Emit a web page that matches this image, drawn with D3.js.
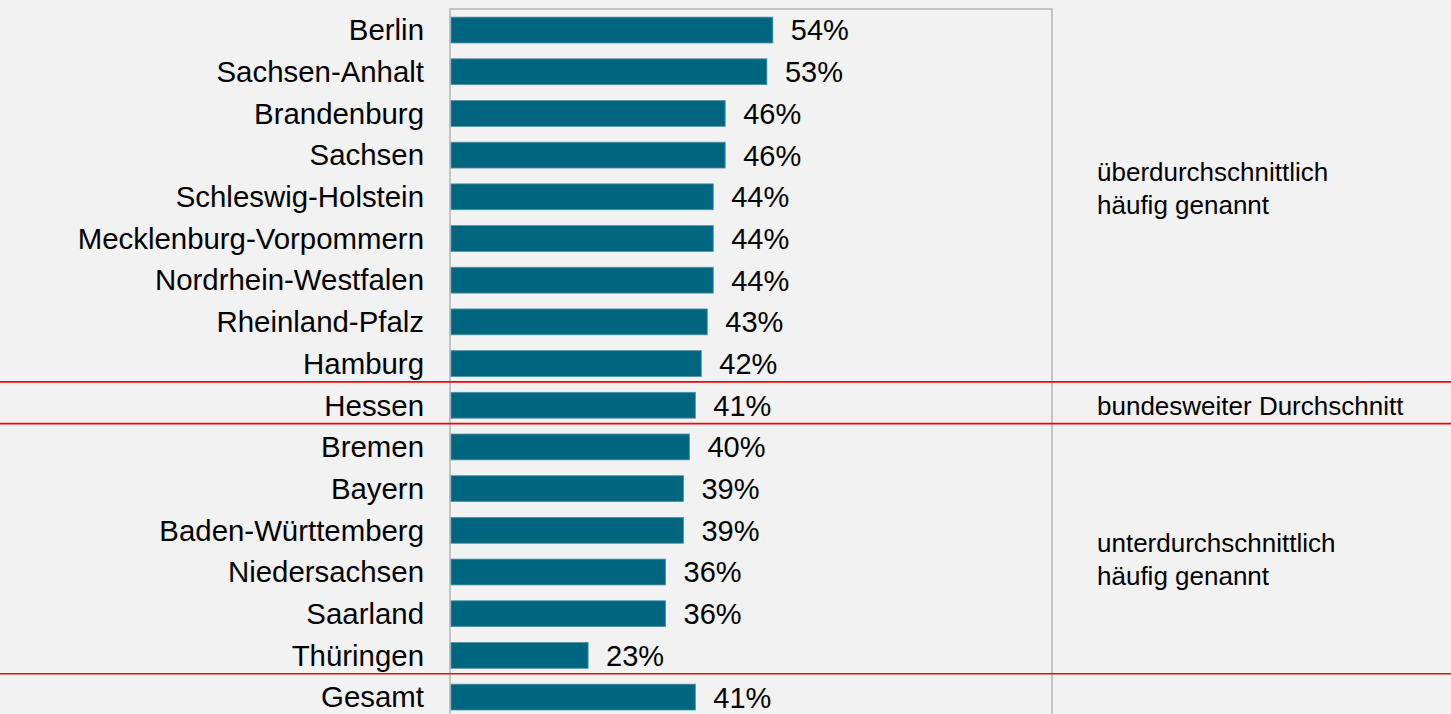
<!DOCTYPE html>
<html>
<head>
<meta charset="utf-8">
<script src="https://cdn.jsdelivr.net/npm/d3@7"></script>
<style>
  html, body { margin: 0; padding: 0; background: #f2f2f2; }
  svg { display: block; font-family: Arial, "Liberation Sans", sans-serif; }
</style>
</head>
<body>
<svg id="chart" width="1451" height="714"></svg>
<script>
// Anteil je Bundesland (in %)
const categories = [
  "Berlin", "Sachsen-Anhalt", "Brandenburg", "Sachsen", "Schleswig-Holstein",
  "Mecklenburg-Vorpommern", "Nordrhein-Westfalen", "Rheinland-Pfalz", "Hamburg",
  "Hessen", "Bremen", "Bayern", "Baden-Württemberg", "Niedersachsen", "Saarland",
  "Thüringen", "Gesamt"
];
const values = [54, 53, 46, 46, 44, 44, 44, 43, 42, 41, 40, 39, 39, 36, 36, 23, 41];

// Gruppen-Beschriftungen rechts, je Gruppe erster und letzter Eintrag
const groups = [
  { from: "Berlin", to: "Hamburg", lines: ["überdurchschnittlich", "häufig genannt"] },
  { from: "Hessen", to: "Hessen", lines: ["bundesweiter Durchschnitt"] },
  { from: "Bremen", to: "Thüringen", lines: ["unterdurchschnittlich", "häufig genannt"] }
];
// Trennlinien nach diesen Einträgen
const separatorsAfter = ["Hamburg", "Hessen", "Thüringen"];

const svg = d3.select("#chart");
const W = 1451, H = 714;

const plotLeft = 450, plotRight = 1052, plotTop = 9;

const x = d3.scaleLinear().domain([0, 100]).range([plotLeft + 1, plotLeft + 1 + 596]);
const y = d3.scaleBand().domain(categories)
  .range([9.2, 9.2 + 41.69 * categories.length])
  .paddingInner(0.38).paddingOuter(0.19);

// Rahmen des Diagrammbereichs
svg.append("path")
  .attr("d", `M${plotLeft},${H + 5}V${plotTop}H${plotRight}V${H + 5}`)
  .attr("fill", "none")
  .attr("stroke", "#c4c4c4")
  .attr("stroke-width", 2);

// Balken
svg.append("g").selectAll("rect")
  .data(categories)
  .join("rect")
  .attr("x", x(0))
  .attr("y", d => y(d))
  .attr("width", (d, i) => x(values[i]) - x(0))
  .attr("height", y.bandwidth())
  .attr("fill", "#006680")
  .attr("stroke", "#4d93a6")
  .attr("stroke-width", 0.8);

// Wertbeschriftungen
svg.append("g").selectAll("text")
  .data(categories)
  .join("text")
  .attr("x", (d, i) => x(values[i]) + 18)
  .attr("y", d => y(d) + y.bandwidth() / 2)
  .attr("dy", "0.36em")
  .attr("font-size", 29)
  .attr("fill", "#000")
  .text((d, i) => values[i] + "%");

// Kategorienachse (Beschriftungen links)
const yAxis = d3.axisLeft(y).tickSize(0).tickPadding(0);
const ax = svg.append("g")
  .attr("transform", `translate(424,0)`)
  .call(yAxis);
ax.select(".domain").remove();
ax.selectAll("text")
  .attr("font-size", 29.4)
  .attr("font-family", "Arial, 'Liberation Sans', sans-serif")
  .attr("fill", "#000")
  .attr("dy", "0.35em");

// Rote Trennlinien
const sepY = d => y(d) + y.bandwidth() + (y.step() - y.bandwidth()) / 2 - 2.5;
svg.append("g").selectAll("line")
  .data(separatorsAfter)
  .join("line")
  .attr("x1", 0).attr("x2", W)
  .attr("y1", sepY).attr("y2", sepY)
  .attr("stroke", "#ff0000")
  .attr("stroke-width", 1.6);

// Gruppen-Beschriftungen rechts (obere Gruppe etwas nach oben, untere nach unten versetzt)
const nudge = [-8.5, 0, 8];
const gLab = svg.append("g").attr("font-size", 26).attr("fill", "#000");
groups.forEach((g, gi) => {
  const top = y(g.from), bottom = y(g.to) + y.bandwidth();
  const mid = (top + bottom) / 2 + nudge[gi];
  const lh = 32.5;
  const t = gLab.append("text").attr("x", 1097);
  g.lines.forEach((ln, k) => {
    t.append("tspan")
      .attr("x", 1097)
      .attr("y", mid + (k - (g.lines.length - 1) / 2) * lh)
      .attr("dy", "0.36em")
      .text(ln);
  });
});
</script>
</body>
</html>
